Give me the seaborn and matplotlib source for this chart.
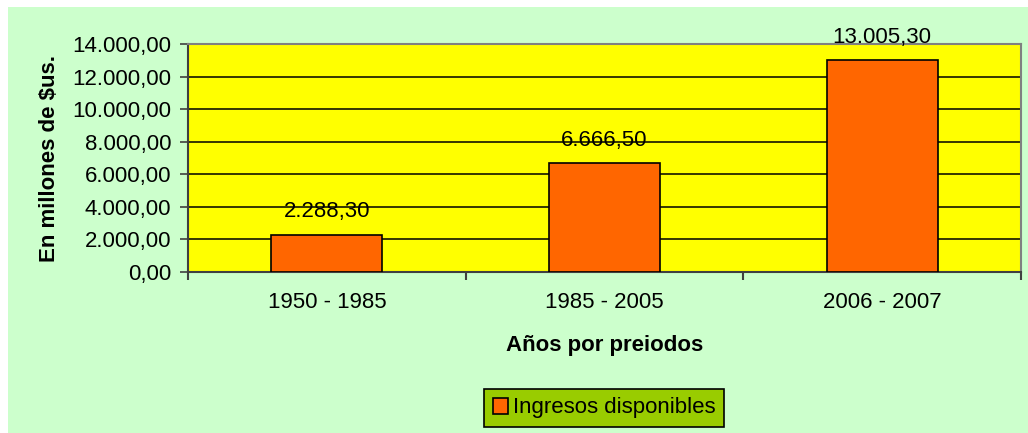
import matplotlib

matplotlib.use("Agg")
import matplotlib.pyplot as plt
from matplotlib.patches import Rectangle, Patch
from matplotlib.ticker import FuncFormatter
import pandas as pd
import seaborn as sns

periods = ["1950 - 1985", "1985 - 2005", "2006 - 2007"]
ingresos = [2288.30, 6666.50, 13005.30]
y_ticks = [0, 2000, 4000, 6000, 8000, 10000, 12000, 14000]

BG = "#CCFFCC"
PLOT_BG = "#FFFF00"
BAR = "#FF6600"
LEGEND_BG = "#99CC00"
FS = 16


def es_number(value: float, _pos=None) -> str:
    text = f"{value:,.2f}"
    return text.replace(",", "X").replace(".", ",").replace("X", ".")


sns.set_style("white")
plt.rcParams["font.family"] = ["Liberation Sans", "DejaVu Sans"]
plt.rcParams["text.color"] = "black"
plt.rcParams["axes.labelcolor"] = "black"
plt.rcParams["xtick.color"] = "black"
plt.rcParams["ytick.color"] = "black"

df = pd.DataFrame({"periodo": periods, "ingresos": ingresos})

W, H = 1028, 433
fig = plt.figure(figsize=(W / 100, H / 100), dpi=100, facecolor="white")
fig.patches.append(
    Rectangle((8 / W, 0), 1 - 8 / W, 1 - 7 / H, transform=fig.transFigure,
              facecolor=BG, edgecolor="none", zorder=-10)
)

ax = fig.add_axes([188 / W, 1 - 272 / H, (1021 - 188) / W, (272 - 44) / H])
ax.set_facecolor(PLOT_BG)

sns.barplot(data=df, x="periodo", y="ingresos", ax=ax, color=BAR,
            width=0.4, edgecolor="black", linewidth=1.2, saturation=1, zorder=3)

ax.set_ylim(0, 14000)
ax.set_xlim(-0.5, 2.5)
ax.set_yticks(y_ticks)
ax.yaxis.set_major_formatter(FuncFormatter(es_number))
ax.yaxis.grid(True, color="black", linewidth=1.1, zorder=0)
ax.set_axisbelow(True)

for x, v in enumerate(ingresos):
    ax.annotate(es_number(v), (x, v), xytext=(0, 9), textcoords="offset points",
                ha="center", va="bottom", fontsize=FS, zorder=5)

for side in ["top", "right"]:
    ax.spines[side].set_color("#808080")
    ax.spines[side].set_linewidth(1.5)
for side in ["left", "bottom"]:
    ax.spines[side].set_color("#404040")
    ax.spines[side].set_linewidth(1.5)

ax.tick_params(axis="y", which="major", left=True, length=6, width=1.2,
               color="#404040", labelsize=FS, pad=6)
ax.set_xticks([0, 1, 2])
ax.set_xticklabels(periods)
ax.tick_params(axis="x", bottom=False, labelsize=FS, pad=11)
# ticks at the category boundaries
ax.set_xticks([-0.5, 0.5, 1.5, 2.5], minor=True)
ax.tick_params(axis="x", which="minor", bottom=True, length=6, width=1.5, color="#404040")

ax.set_xlabel("Años por preiodos", fontsize=FS, fontweight="bold", labelpad=16)
ax.set_ylabel("En millones de $us.", fontsize=FS, fontweight="bold", labelpad=9)

handle = Patch(facecolor=BAR, edgecolor="black", linewidth=1.2, label="Ingresos disponibles")
leg = fig.legend(handles=[handle], loc="center", bbox_to_anchor=(604 / W, 1 - 408 / H),
                 fontsize=FS, frameon=True, fancybox=False, handlelength=0.7,
                 handleheight=0.7, handletextpad=0.2, borderpad=0.4, borderaxespad=0)
leg.get_frame().set_facecolor(LEGEND_BG)
leg.get_frame().set_edgecolor("black")
leg.get_frame().set_linewidth(1.2)
leg.get_frame().set_alpha(1)

fig.savefig("out.png", dpi=100, facecolor=fig.get_facecolor())
